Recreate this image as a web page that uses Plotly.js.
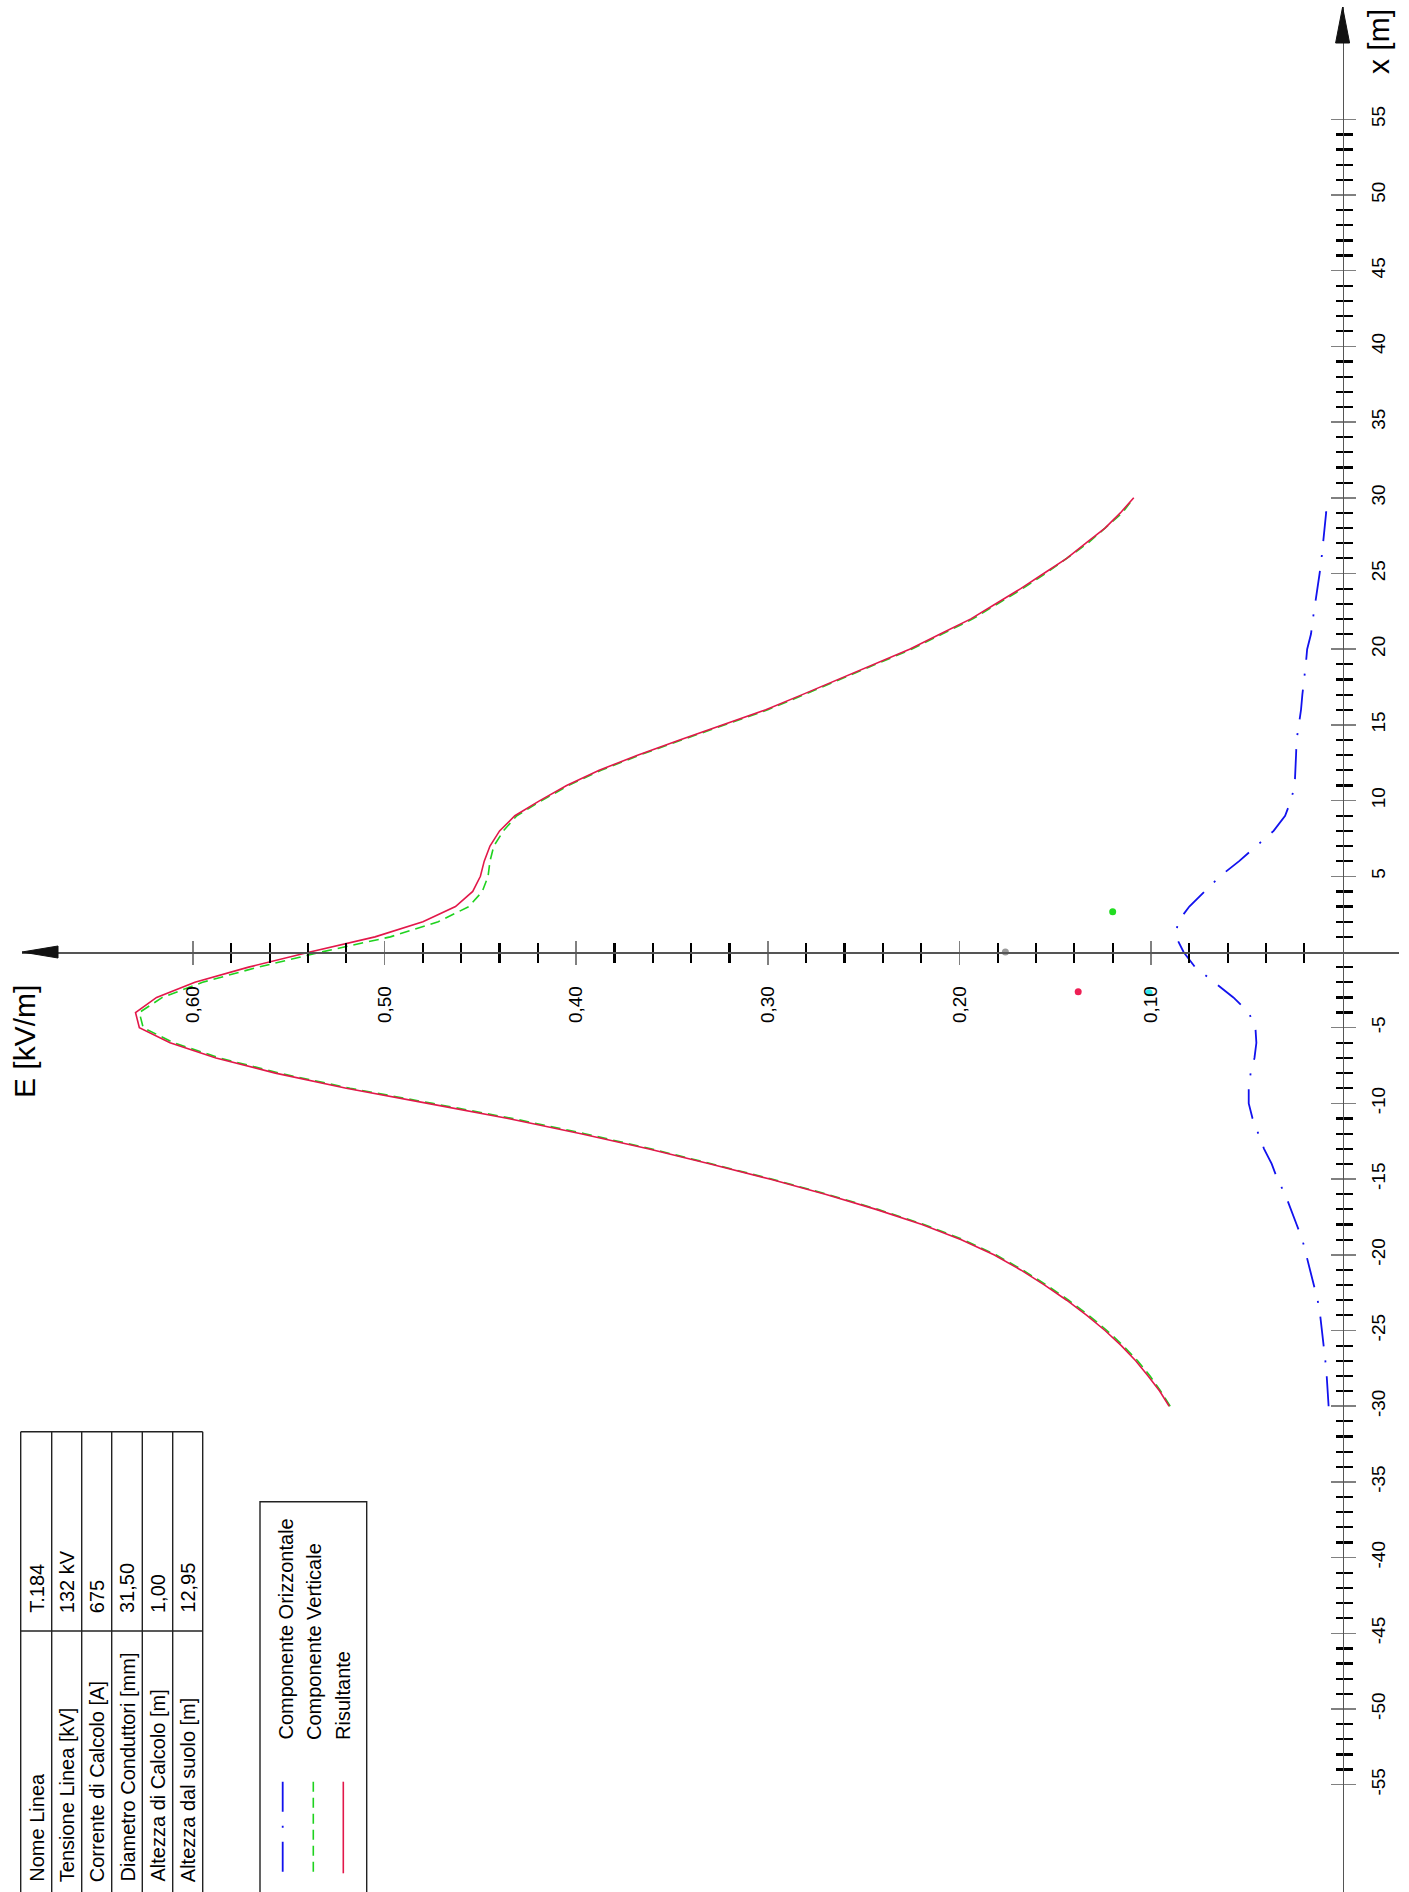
<!DOCTYPE html>
<html>
<head>
<meta charset="utf-8">
<script src="https://cdn.plot.ly/plotly-3.0.1.min.js"></script>
<style>html,body{margin:0;padding:0;background:#fff;}#chart{width:1409px;height:1892px;}</style>
</head>
<body>
<div id="chart"></div>
<script>
// ---- data ----
const positions = [-30,-29,-28,-27,-26,-25,-24,-23,-22,-21,-20,-19,-18,-17,-16,-15,-14,-13,-12,-11,-10,-9,-8,-7,-6,-5,-4,-3,-2,-1,0,1,2,3,4,5,6,7,8,9,10,11,12,13,14,15,16,17,18,19,20,21,22,23,24,25,26,27,28,29,30];
const eOrizzontale = [0.0073,0.0077,0.0083,0.0090,0.0098,0.0107,0.0117,0.0130,0.0152,0.0170,0.0190,0.0210,0.0240,0.0270,0.0300,0.0340,0.0370,0.0410,0.0440,0.0470,0.0490,0.0490,0.0480,0.0460,0.0450,0.0455,0.0490,0.0570,0.0670,0.0770,0.0830,0.0870,0.0860,0.0800,0.0720,0.0640,0.0540,0.0450,0.0360,0.0300,0.0270,0.0250,0.0245,0.0243,0.0240,0.0228,0.0217,0.0210,0.0200,0.0192,0.0185,0.0165,0.0155,0.0143,0.0130,0.0120,0.0110,0.0102,0.0092,0.0086,0.0081];
const eVerticale = [0.0900,0.0950,0.1005,0.1070,0.1145,0.1230,0.1325,0.1430,0.1545,0.1670,0.1810,0.1980,0.2185,0.2425,0.2690,0.2980,0.3290,0.3610,0.3955,0.4330,0.4750,0.5180,0.5550,0.5860,0.6100,0.6260,0.6280,0.6160,0.5950,0.5660,0.5330,0.4970,0.4720,0.4560,0.4490,0.4460,0.4450,0.4430,0.4380,0.4310,0.4180,0.4040,0.3870,0.3670,0.3450,0.3220,0.3000,0.2810,0.2620,0.2430,0.2250,0.2090,0.1930,0.1800,0.1670,0.1550,0.1440,0.1330,0.1240,0.1150,0.1090];
const eRisultante = [0.0905,0.0955,0.1015,0.1080,0.1155,0.1240,0.1335,0.1440,0.1555,0.1680,0.1820,0.1990,0.2195,0.2435,0.2700,0.2990,0.3300,0.3625,0.3975,0.4355,0.4775,0.5200,0.5570,0.5880,0.6120,0.6280,0.6300,0.6190,0.5990,0.5710,0.5390,0.5050,0.4800,0.4630,0.4540,0.4500,0.4480,0.4450,0.4400,0.4320,0.4190,0.4050,0.3880,0.3680,0.3460,0.3230,0.3010,0.2820,0.2630,0.2440,0.2260,0.2100,0.1940,0.1810,0.1680,0.1560,0.1440,0.1340,0.1240,0.1160,0.1090];
const markerE = [0.120, 0.138, 0.176, 0.101];
const markerX = [2.66, -2.62, 0, -2.69];
const markerColors = ['#22dd22', '#ee1f55', '#9a9a9a', '#33e8e8'];
const seriesNames = ['Componente Orizzontale', 'Componente Verticale', 'Risultante'];
const eTickVals = [0.1, 0.2, 0.3, 0.4, 0.5, 0.6];
const eTickText = ['0,10', '0,20', '0,30', '0,40', '0,50', '0,60'];
const xTickVals = [-55,-50,-45,-40,-35,-30,-25,-20,-15,-10,-5,5,10,15,20,25,30,35,40,45,50,55];
const xTickText = ['-55','-50','-45','-40','-35','-30','-25','-20','-15','-10','-5','5','10','15','20','25','30','35','40','45','50','55'];
const tableLabels = ['Nome Linea','Tensione Linea [kV]','Corrente di Calcolo [A]','Diametro Conduttori [mm]','Altezza di Calcolo [m]','Altezza dal suolo [m]'];
const tableValues = ['T.184','132 kV','675','31,50','1,00','12,95'];
const eTitle = 'E [kV/m]';
const xTitle = 'x [m]';

// ---- geometry helpers ----
const W = 1409, H = 1892;
const px = v => v / W;
const py = v => 1 - v / H;
const E0PX = 1342.6, EPX = 1916;   // pixel of E=0, pixels per kV/m
const X0PY = 952, XPY = 15.14;     // pixel of x=0, pixels per m
const FONT = 'Liberation Sans, Arial, sans-serif';

const eMinor = [];
for (let i = 1; i < 30; i++) { if (i % 5 !== 0) eMinor.push(Math.round(i * 0.02 * 1000) / 1000); }
const xMinor = [];
for (let i = -54; i <= 54; i++) { if (i % 5 !== 0) xMinor.push(i); }

const xDomain = [22 / W, 1399 / W];
const xRange = [(E0PX - 22) / EPX, (E0PX - 1399) / EPX];
const yDomain = [0, 1 - 7 / H];
const yRange = [(X0PY - H) / XPY, (X0PY - 7) / XPY];

const colBlue = '#1212ee', colGreen = '#1fd21f', colRed = '#e2184a';

const traces = [
  {x: eOrizzontale, y: positions, mode: 'lines', name: seriesNames[0],
   line: {color: colBlue, width: 1.8, dash: '30px,14px,2px,14px'}, hoverinfo: 'skip'},
  {x: eVerticale, y: positions, mode: 'lines', name: seriesNames[1],
   line: {color: colGreen, width: 1.6, dash: '10px,6px'}, hoverinfo: 'skip'},
  {x: eRisultante, y: positions, mode: 'lines', name: seriesNames[2],
   line: {color: colRed, width: 1.6}, hoverinfo: 'skip'},
  {x: markerE, y: markerX, mode: 'markers', marker: {color: markerColors, size: 7}, hoverinfo: 'skip'},
  {x: [], y: [], xaxis: 'x2', yaxis: 'y2', mode: 'markers', hoverinfo: 'skip'}
];

const tickFont = {family: FONT, size: 19, color: '#000'};
const axCommonX = {domain: xDomain, range: xRange, anchor: 'free', position: py(X0PY), side: 'bottom',
  showgrid: false, zeroline: false, automargin: false, fixedrange: true,
  tickmode: 'array', tickvals: eTickVals, ticktext: eTickText,
  ticklen: 11, tickwidth: 1.5, tickcolor: '#808080'};
const axCommonY = {domain: yDomain, range: yRange, anchor: 'free', position: px(E0PX), side: 'right',
  showgrid: false, zeroline: false, automargin: false, fixedrange: true,
  tickmode: 'array', tickvals: xTickVals, ticktext: xTickText,
  ticklen: 12, tickwidth: 1.5, tickcolor: '#808080'};

const layout = {
  width: W, height: H,
  margin: {l: 0, r: 0, t: 0, b: 0, pad: 0},
  paper_bgcolor: '#fff', plot_bgcolor: 'rgba(0,0,0,0)',
  showlegend: false,
  font: {family: FONT, color: '#000'},
  xaxis: Object.assign({}, axCommonX, {
    showline: true, linecolor: '#555', linewidth: 1.5,
    ticks: 'outside', tickangle: -90, tickfont: tickFont, ticklabelstandoff: 14,
    minor: {tickmode: 'array', tickvals: eMinor, ticks: 'outside', ticklen: 9, tickwidth: 2.2, tickcolor: '#000', showgrid: false}
  }),
  xaxis2: Object.assign({}, axCommonX, {
    overlaying: 'x', showline: false, ticks: 'inside', showticklabels: false,
    minor: {tickmode: 'array', tickvals: eMinor, ticks: 'inside', ticklen: 9, tickwidth: 2.2, tickcolor: '#000', showgrid: false}
  }),
  yaxis: Object.assign({}, axCommonY, {
    showline: true, linecolor: '#555', linewidth: 1.5,
    ticks: 'outside', tickangle: -90, tickfont: tickFont, ticklabelstandoff: 6,
    minor: {tickmode: 'array', tickvals: xMinor, ticks: 'outside', ticklen: 9, tickwidth: 2.2, tickcolor: '#000', showgrid: false}
  }),
  yaxis2: Object.assign({}, axCommonY, {
    overlaying: 'y', showline: false, ticks: 'inside', showticklabels: false,
    minor: {tickmode: 'array', tickvals: xMinor, ticks: 'inside', ticklen: 7, tickwidth: 2.2, tickcolor: '#000', showgrid: false}
  }),
  shapes: [],
  annotations: []
};

// axis arrowheads
layout.shapes.push({type: 'path', xref: 'paper', yref: 'paper', layer: 'above',
  path: `M ${px(22)},${py(X0PY)} L ${px(58)},${py(X0PY - 6)} L ${px(58)},${py(X0PY + 6)} Z`,
  fillcolor: '#111', line: {color: '#111', width: 1}});
layout.shapes.push({type: 'path', xref: 'paper', yref: 'paper', layer: 'above',
  path: `M ${px(E0PX)},${py(7)} L ${px(E0PX - 7)},${py(43)} L ${px(E0PX + 7)},${py(43)} Z`,
  fillcolor: '#111', line: {color: '#111', width: 1}});

// axis titles
layout.annotations.push({text: eTitle, xref: 'paper', yref: 'paper', x: px(24), y: py(1042),
  textangle: -90, showarrow: false, xanchor: 'center', yanchor: 'middle', font: {family: FONT, size: 30, color: '#000'}});
layout.annotations.push({text: xTitle, xref: 'paper', yref: 'paper', x: px(1378), y: py(42),
  textangle: -90, showarrow: false, xanchor: 'center', yanchor: 'middle', font: {family: FONT, size: 30, color: '#000'}});

// info table (rotated)
const tblCols = [20.7, 51.7, 81.7, 111.7, 142.3, 172.7, 202.7];
const tblTop = 1431.7, tblDiv = 1631, tblBottom = 1900;
const lineStyle = {color: '#222', width: 1.4};
tblCols.forEach(c => layout.shapes.push({type: 'line', xref: 'paper', yref: 'paper',
  x0: px(c), x1: px(c), y0: py(tblTop), y1: py(tblBottom), line: lineStyle}));
layout.shapes.push({type: 'line', xref: 'paper', yref: 'paper', x0: px(20.7), x1: px(202.7), y0: py(tblTop), y1: py(tblTop), line: lineStyle});
layout.shapes.push({type: 'line', xref: 'paper', yref: 'paper', x0: px(20.7), x1: px(202.7), y0: py(tblDiv), y1: py(tblDiv), line: lineStyle});
const tFont = {family: FONT, size: 20, color: '#000'};
tableLabels.forEach((t, i) => {
  const cx = (tblCols[i] + tblCols[i + 1]) / 2;
  layout.annotations.push({text: t, xref: 'paper', yref: 'paper', x: px(cx), y: py(1884),
    textangle: -90, showarrow: false, xanchor: 'center', yanchor: 'bottom', font: tFont});
  layout.annotations.push({text: tableValues[i], xref: 'paper', yref: 'paper', x: px(cx), y: py(1615),
    textangle: -90, showarrow: false, xanchor: 'center', yanchor: 'bottom', font: tFont});
});

// legend box (rotated)
layout.shapes.push({type: 'rect', xref: 'paper', yref: 'paper', x0: px(260), x1: px(366.7), y0: py(1501.7), y1: py(1900),
  line: lineStyle, fillcolor: 'rgba(0,0,0,0)'});
const legX = [282.7, 313.3, 343.3];
const legTextX = [285, 313.5, 342.5];
const legStyles = [{color: colBlue, width: 1.8, dash: '30px,14px,2px,14px'}, {color: colGreen, width: 1.6, dash: '10px,6px'}, {color: colRed, width: 1.6}];
seriesNames.forEach((n, i) => {
  layout.shapes.push({type: 'line', xref: 'paper', yref: 'paper', x0: px(legX[i]), x1: px(legX[i]), y0: py(1781.7), y1: py(1873.3), line: legStyles[i]});
  layout.annotations.push({text: n, xref: 'paper', yref: 'paper', x: px(legTextX[i]), y: py(1742),
    textangle: -90, showarrow: false, xanchor: 'center', yanchor: 'bottom', font: tFont});
});

Plotly.newPlot('chart', traces, layout, {displayModeBar: false, staticPlot: true});
</script>
</body>
</html>
